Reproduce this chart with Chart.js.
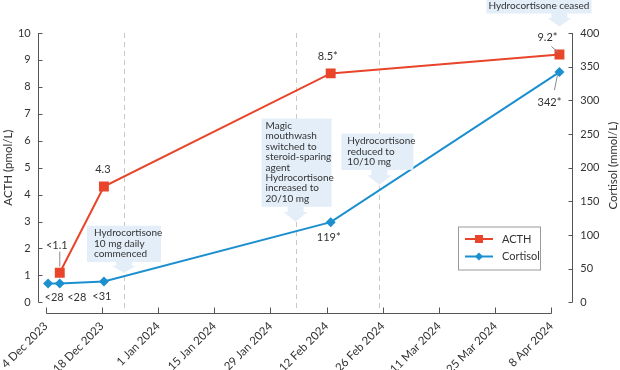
<!DOCTYPE html>
<html><head><meta charset="utf-8">
<script src="https://cdn.jsdelivr.net/npm/chart.js@4.4.0/dist/chart.umd.min.js"></script>
<style>html,body{margin:0;padding:0;background:#fff}#wrap{width:620px;height:370px;position:relative}</style>
</head><body><div id="wrap"><canvas id="c" width="620" height="370"></canvas></div>
<script>
// ---------- data ----------
const startDate = '2023-12-04T00:00Z';
const xTickDates = ['2023-12-04','2023-12-18','2024-01-01','2024-01-15','2024-01-29','2024-02-12','2024-02-26','2024-03-11','2024-03-25','2024-04-08'];
const xTickLabels = ['4 Dec 2023','18 Dec 2023','1 Jan 2024','15 Jan 2024','29 Jan 2024','12 Feb 2024','26 Feb 2024','11 Mar 2024','25 Mar 2024','8 Apr 2024'];
const acthDates = ['2023-12-07T12:00Z','2023-12-18T12:00Z','2024-02-13T00:00Z','2024-04-10T00:00Z'];
const acthValues = [1.1, 4.3, 8.5, 9.2];
const acthLabels = ['<1.1','4.3','8.5*','9.2*'];
const cortisolDates = ['2023-12-04T14:00Z','2023-12-07T12:00Z','2023-12-18T12:00Z','2024-02-13T00:00Z','2024-04-10T00:00Z'];
const cortisolValues = [28, 28, 31, 119, 342];
const cortisolLabels = ['<28','<28','<31','119*','342*'];
const eventDates = ['2023-12-23T12:00Z','2024-02-04T06:00Z','2024-02-25T03:00Z','2024-04-10T00:00Z'];
const eventTexts = [
  ['Hydrocortisone','10 mg daily','commenced'],
  ['Magic','mouthwash','switched to','steroid-sparing','agent','Hydrocortisone','increased to','20/10 mg'],
  ['Hydrocortisone','reduced to','10/10 mg'],
  ['Hydrocortisone ceased']
];
const eventLevels = [1.09, 2.99, 4.36, 10.24]; // ACTH-axis level of each arrow tip
const eventDashed = [true, true, true, false];
const acthAxisTitle = 'ACTH (pmol/L)';
const cortisolAxisTitle = 'Cortisol (mmol/L)';

// ---------- styles ----------
const RED = '#e8452b', BLUE = '#1c8fcf', BOXC = '#e3eef9', TXT = '#333333', AXC = '#555555';
const FONT = 'Lato, "Open Sans", sans-serif';
const acthLabelOffsets = [[-3,-27],[-1,-17],[-3,-17],[-12,-17]];
const cortisolLabelOffsets = [[6,14],[17,14],[-2,15],[-2,15],[-10,30]];
const acthLeaders = [[[0,-21],[0,-6]], null, null, [[-8,-8],[-1,-2]]];
const cortisolLeaders = [null,null,null,null,[[-5,18],[-2,3]]];
const boxStyles = [
  {left:-37, w:74, tx:7, arrowH:11, align:'left'},
  {left:-34, w:70, tx:4, arrowH:15, align:'left'},
  {left:-38, w:72, tx:6, arrowH:15, align:'left'},
  {left:-73, w:105, tx:0, arrowH:13, align:'center'}
];

const day = s => (Date.parse(s.length === 10 ? s + 'T00:00Z' : s) - Date.parse(startDate)) / 86400000;
const xTickDays = xTickDates.map(day);

const annot = {
  id: 'annot',
  beforeDatasetsDraw(chart) {
    const {ctx, chartArea: ca, scales} = chart;
    ctx.save();
    ctx.strokeStyle = '#c8c8c8'; ctx.lineWidth = 1; ctx.setLineDash([5,4]);
    eventDates.forEach((d,i) => {
      if (!eventDashed[i]) return;
      const x = Math.round(scales.x.getPixelForValue(day(d))) + 0.5;
      ctx.beginPath(); ctx.moveTo(x, ca.top); ctx.lineTo(x, ca.bottom + 9); ctx.stroke();
    });
    ctx.restore();
  },
  afterDatasetsDraw(chart) {
    const {ctx, chartArea: ca, scales} = chart;
    ctx.save();
    // axes
    ctx.strokeStyle = AXC; ctx.lineWidth = 1;
    const lx = Math.round(ca.left) + 0.5, rx = Math.round(ca.right) + 0.5;
    ctx.beginPath();
    ctx.moveTo(lx, ca.top); ctx.lineTo(lx, ca.bottom);
    scales.y.ticks.forEach(t => { const y = Math.round(scales.y.getPixelForValue(t.value)) + 0.5; ctx.moveTo(lx, y); ctx.lineTo(lx + 4, y); });
    ctx.moveTo(rx, ca.top); ctx.lineTo(rx, ca.bottom);
    scales.y2.ticks.forEach(t => { const y = Math.round(scales.y2.getPixelForValue(t.value)) + 0.5; ctx.moveTo(rx, y); ctx.lineTo(rx - 4, y); });
    const ay = Math.round(ca.bottom + 11) + 0.5;
    const x0 = scales.x.getPixelForValue(xTickDays[0]), x1 = scales.x.getPixelForValue(xTickDays[xTickDays.length-1]);
    ctx.moveTo(Math.round(x0)+0.5, ay); ctx.lineTo(Math.round(x1)+0.5, ay);
    xTickDays.forEach(v => { const x = Math.round(scales.x.getPixelForValue(v)) + 0.5; ctx.moveTo(x, ay); ctx.lineTo(x, ay - 6); });
    ctx.stroke();

    // right axis title
    ctx.fillStyle = TXT; ctx.font = '11.5px ' + FONT; ctx.textAlign = 'center'; ctx.textBaseline = 'middle';
    ctx.save(); ctx.translate(613, (ca.top + ca.bottom) / 2 - 2); ctx.rotate(-Math.PI/2); ctx.fillText(cortisolAxisTitle, 0, 0); ctx.restore();

    // data labels
    const drawLabels = (dsIndex, labels, offs, leaders) => {
      const meta = chart.getDatasetMeta(dsIndex);
      meta.data.forEach((pt, i) => {
        const L = leaders[i];
        if (L) {
          ctx.strokeStyle = '#8a8a8a'; ctx.lineWidth = 1;
          ctx.beginPath(); ctx.moveTo(pt.x + L[0][0], pt.y + L[0][1]); ctx.lineTo(pt.x + L[1][0], pt.y + L[1][1]); ctx.stroke();
        }
        ctx.fillStyle = TXT; ctx.font = '11px ' + FONT; ctx.textAlign = 'center'; ctx.textBaseline = 'middle';
        ctx.fillText(labels[i], pt.x + offs[i][0], pt.y + offs[i][1]);
      });
    };
    drawLabels(0, acthLabels, acthLabelOffsets, acthLeaders);
    drawLabels(1, cortisolLabels, cortisolLabelOffsets, cortisolLeaders);

    // callouts
    const LH = 10.4;
    eventDates.forEach((d, i) => {
      const st = boxStyles[i];
      const ax = scales.x.getPixelForValue(day(d));
      const tipY = scales.y.getPixelForValue(eventLevels[i]);
      const bb = tipY - st.arrowH;
      const bh = eventTexts[i].length * LH + 5;
      const bt = bb - bh;
      const bl = ax + st.left;
      ctx.fillStyle = BOXC;
      ctx.fillRect(bl, bt, st.w, bh);
      const sh = st.arrowH * 0.35;
      ctx.beginPath();
      ctx.moveTo(ax - 8, bb - 0.5); ctx.lineTo(ax + 8, bb - 0.5); ctx.lineTo(ax + 8, bb + sh);
      ctx.lineTo(ax + 12, bb + sh); ctx.lineTo(ax, tipY); ctx.lineTo(ax - 12, bb + sh); ctx.lineTo(ax - 8, bb + sh);
      ctx.closePath(); ctx.fill();
      ctx.fillStyle = TXT; ctx.font = '10px ' + FONT; ctx.textBaseline = 'middle';
      ctx.textAlign = st.align;
      const tx = st.align === 'center' ? bl + st.w / 2 : bl + st.tx;
      eventTexts[i].forEach((line, k) => ctx.fillText(line, tx, bt + 2 + LH * (k + 0.5)));
    });

    // legend
    const lgX = 458, lgY = 226.5, lgW = 82, lgH = 43;
    ctx.fillStyle = '#fff'; ctx.fillRect(lgX, lgY, lgW, lgH);
    ctx.strokeStyle = '#9a9a9a'; ctx.lineWidth = 1; ctx.strokeRect(lgX + 0.5, lgY + 0.5, lgW, lgH);
    chart.data.datasets.forEach((ds, i) => {
      const y = lgY + 12.5 + i * 17.5;
      ctx.strokeStyle = ds.borderColor; ctx.lineWidth = 2;
      ctx.beginPath(); ctx.moveTo(lgX + 7, y); ctx.lineTo(lgX + 35, y); ctx.stroke();
      ctx.fillStyle = ds.borderColor;
      if (ds.pointStyle === 'rect') ctx.fillRect(lgX + 21 - 4, y - 4, 8, 8);
      else { ctx.beginPath(); ctx.moveTo(lgX + 21, y - 4); ctx.lineTo(lgX + 25, y); ctx.lineTo(lgX + 21, y + 4); ctx.lineTo(lgX + 17, y); ctx.closePath(); ctx.fill(); }
      ctx.fillStyle = TXT; ctx.font = '11px ' + FONT; ctx.textAlign = 'left'; ctx.textBaseline = 'middle';
      ctx.fillText(ds.label, lgX + 44, y);
    });
    ctx.restore();
  }
};

new Chart(document.getElementById('c'), {
  type: 'line',
  data: {
    datasets: [
      { label: 'ACTH', data: acthDates.map((d,i) => ({x: day(d), y: acthValues[i]})), yAxisID: 'y',
        borderColor: RED, backgroundColor: RED, borderWidth: 2, pointStyle: 'rect', pointRadius: 7, pointBorderWidth: 0, tension: 0 },
      { label: 'Cortisol', data: cortisolDates.map((d,i) => ({x: day(d), y: cortisolValues[i]})), yAxisID: 'y2',
        borderColor: BLUE, backgroundColor: BLUE, borderWidth: 2, pointStyle: 'rectRot', pointRadius: 5, pointBorderWidth: 0, tension: 0 }
    ]
  },
  options: {
    responsive: false, animation: false, events: [],
    layout: { padding: { top: 33, left: 0, right: 0, bottom: 0 } },
    plugins: { legend: { display: false }, tooltip: { enabled: false } },
    scales: {
      x: {
        type: 'linear', min: -2, max: 131.2,
        afterBuildTicks: s => { s.ticks = xTickDays.map(v => ({ value: v })); },
        ticks: { autoSkip: false, minRotation: 45, maxRotation: 45, padding: 17, color: TXT, font: { family: FONT, size: 11.5 },
                 callback: (v, i) => xTickLabels[i] },
        grid: { display: false, drawTicks: false }, border: { display: false },
        afterFit: s => { s.height = 67.7; s.paddingLeft = 0; s.paddingRight = 0; }
      },
      y: {
        position: 'left', min: 0, max: 10,
        ticks: { stepSize: 1, padding: 7, color: TXT, font: { family: FONT, size: 11 } },
        grid: { display: false, drawTicks: false }, border: { display: false },
        title: { display: true, text: acthAxisTitle, color: TXT, font: { family: FONT, size: 11.5 }, padding: { top: 1, bottom: 0 } },
        afterFit: s => { s.width = 37.7; }
      },
      y2: {
        position: 'right', min: 0, max: 400,
        ticks: { stepSize: 50, padding: 8, color: TXT, font: { family: FONT, size: 11 } },
        grid: { display: false, drawTicks: false }, border: { display: false },
        afterFit: s => { s.width = 47.7; }
      }
    }
  },
  plugins: [annot]
});
</script>
</body></html>
